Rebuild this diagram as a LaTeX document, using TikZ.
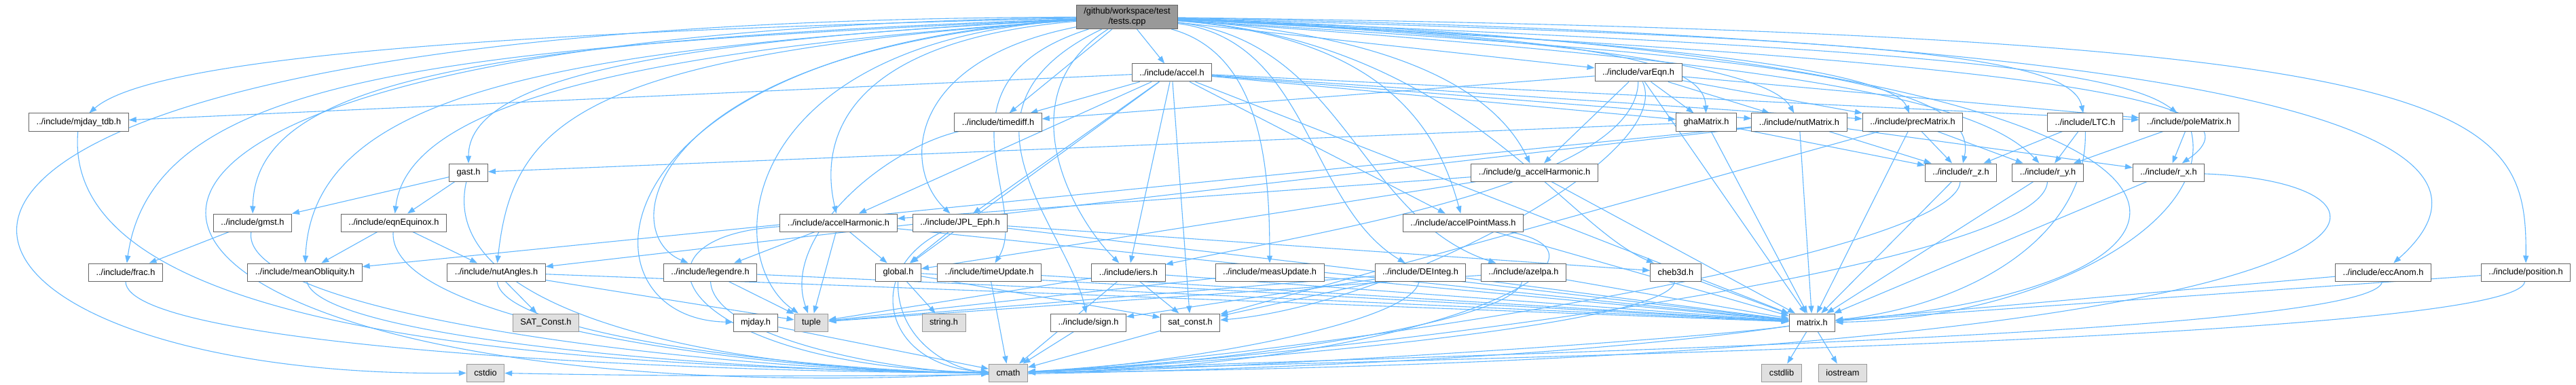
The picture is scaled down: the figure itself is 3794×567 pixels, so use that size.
\documentclass[tikz,border=0pt]{standalone}
\usepackage{fontspec}
\setsansfont{Liberation Sans}
\usetikzlibrary{arrows.meta}

\definecolor{edgeblue}{HTML}{63B8FF}
\definecolor{boxline}{HTML}{666666}
\definecolor{sysline}{HTML}{999999}
\definecolor{sysfill}{HTML}{E0E0E0}
\definecolor{rootfill}{HTML}{999999}

\pgfdeclarelayer{edges}
\pgfsetlayers{edges,main}

\begin{document}
\begin{tikzpicture}[
    x=1pt, y=1pt,
    every node/.style={font=\sffamily\fontsize{12.8}{15}\selectfont},
    hdr/.style={draw=boxline, fill=white, line width=1pt, minimum height=26pt, inner xsep=11pt, inner ysep=2pt},
    sys/.style={hdr, draw=sysline, fill=sysfill},
    root/.style={hdr, fill=rootfill, align=center, inner ysep=4pt},
    inc/.style={draw=edgeblue, line width=1.1pt, -{Triangle[length=11pt,width=8pt]}}
]
\useasboundingbox (0,0) rectangle (3794,-567);

% the file itself
\node[root] (tests) at (1660,-25) {/github/workspace/test\\/tests.cpp};

% first level
\node[hdr] (accel) at (1726,-107) {../include/accel.h};
\node[hdr] (varEqn) at (2413,-107) {../include/varEqn.h};

% second level
\node[hdr] (mjdayTdb) at (116,-180) {../include/mjday\_tdb.h};
\node[hdr] (timediff) at (1470,-180) {../include/timediff.h};
\node[hdr] (ghaMatrix) at (2513,-180) {ghaMatrix.h};
\node[hdr] (nutMatrix) at (2650,-180) {../include/nutMatrix.h};
\node[hdr] (precMatrix) at (2817,-180) {../include/precMatrix.h};
\node[hdr] (LTC) at (3071,-180) {../include/LTC.h};
\node[hdr] (poleMatrix) at (3224,-180) {../include/poleMatrix.h};

% third level
\node[hdr] (gast) at (690,-254) {gast.h};
\node[hdr] (gAccelHarmonic) at (2260,-254) {../include/g\_accelHarmonic.h};
\node[hdr] (rZ) at (2888,-254) {../include/r\_z.h};
\node[hdr] (rY) at (3016,-254) {../include/r\_y.h};
\node[hdr] (rX) at (3194,-254) {../include/r\_x.h};

% fourth level
\node[hdr] (gmst) at (372,-328) {../include/gmst.h};
\node[hdr] (eqnEquinox) at (580,-328) {../include/eqnEquinox.h};
\node[hdr] (accelHarmonic) at (1235,-328) {../include/accelHarmonic.h};
\node[hdr] (JPLEph) at (1414,-328) {../include/JPL\_Eph.h};
\node[hdr] (accelPointMass) at (2155,-328) {../include/accelPointMass.h};

% fifth level
\node[hdr] (frac) at (185,-401) {../include/frac.h};
\node[hdr] (meanObliquity) at (449,-401) {../include/meanObliquity.h};
\node[hdr] (nutAngles) at (731,-401) {../include/nutAngles.h};
\node[hdr] (legendre) at (1046,-401) {../include/legendre.h};
\node[hdr] (global) at (1323,-401) {global.h};
\node[hdr] (timeUpdate) at (1457,-401) {../include/timeUpdate.h};
\node[hdr] (iers) at (1662,-401) {../include/iers.h};
\node[hdr] (measUpdate) at (1870,-401) {../include/measUpdate.h};
\node[hdr] (DEInteg) at (2092,-401) {../include/DEInteg.h};
\node[hdr] (azelpa) at (2244,-401) {../include/azelpa.h};
\node[hdr] (cheb3d) at (2468,-401) {cheb3d.h};
\node[hdr] (eccAnom) at (3510,-401) {../include/eccAnom.h};
\node[hdr] (position) at (3720,-401) {../include/position.h};

% sixth level
\node[sys] (SATConst) at (804,-475) {SAT\_Const.h};
\node[hdr] (mjday) at (1113,-475) {mjday.h};
\node[sys] (tuple) at (1195,-475) {tuple};
\node[sys] (stringH) at (1390,-475) {string.h};
\node[hdr] (sign) at (1603,-475) {../include/sign.h};
\node[hdr] (satConst) at (1753,-475) {sat\_const.h};
\node[hdr] (matrix) at (2669,-475) {matrix.h};

% system headers at the bottom
\node[sys] (cstdio) at (715,-549) {cstdio};
\node[sys] (cmath) at (1485,-549) {cmath};
\node[sys] (cstdlib) at (2624,-549) {cstdlib};
\node[sys] (iostream) at (2714,-549) {iostream};

\begin{pgfonlayer}{edges}
\fill[white] (0,0) rectangle (3794,-567);

% tests.cpp, left side
\draw[inc] (tests) .. controls (-450,-30) and (-200,-560) .. (cstdio);
\draw[inc] (tests) .. controls (-250,-50) and (50,-620) .. (cmath);
\draw[inc] (tests) .. controls (800,-45) and (230,-80) .. (mjdayTdb);
\draw[inc] (tests) .. controls (650,-70) and (225,-110) .. (frac);
\draw[inc] (tests) .. controls (700,-60) and (375,-120) .. (gmst);
\draw[inc] (tests) .. controls (800,-70) and (460,-140) .. (meanObliquity);
\draw[inc] (tests) .. controls (900,-75) and (600,-160) .. (eqnEquinox);
\draw[inc] (tests) .. controls (950,-60) and (690,-120) .. (gast);
\draw[inc] (tests) .. controls (850,-80) and (755,-180) .. (nutAngles);
\draw[inc] (tests) .. controls (860,-70) and (840,-470) .. (mjday);
\draw[inc] (tests) .. controls (960,-70) and (900,-340) .. (legendre);
\draw[inc] (tests) .. controls (1080,-60) and (1060,-380) .. (tuple);
\draw[inc] (tests) .. controls (1250,-60) and (1205,-200) .. (accelHarmonic);
\draw[inc] (tests) .. controls (1330,-90) and (1330,-250) .. (JPLEph);
\draw[inc] (tests) .. controls (1360,-120) and (1520,-300) .. (timeUpdate);
\draw[inc] (tests) .. controls (1380,-160) and (1570,-330) .. (sign);
\draw[inc] (tests) .. controls (1480,-140) and (1580,-320) .. (iers);
\draw[inc] (tests) -- (timediff);
\draw[inc] (tests) .. controls (1860,-80) and (1870,-250) .. (measUpdate);

% tests.cpp, right side
\draw[inc] (tests) -- (accel);
\draw[inc] (tests) -- (varEqn);
\draw[inc] (tests) .. controls (1930,-60) and (1925,-300) .. (DEInteg);
\draw[inc] (tests) .. controls (1980,-60) and (2000,-320) .. (azelpa);
\draw[inc] (tests) .. controls (2050,-55) and (2120,-200) .. (accelPointMass);
\draw[inc] (tests) .. controls (2150,-60) and (2300,-330) .. (cheb3d);
\draw[inc] (tests) .. controls (2050,-50) and (2200,-130) .. (gAccelHarmonic);
\draw[inc] (tests) .. controls (2350,-55) and (2510,-90) .. (ghaMatrix);
\draw[inc] (tests) .. controls (2400,-60) and (2610,-110) .. (nutMatrix);
\draw[inc] (tests) .. controls (2500,-60) and (2790,-110) .. (precMatrix);
\draw[inc] (tests) .. controls (2750,-55) and (3050,-80) .. (LTC);
\draw[inc] (tests) .. controls (2800,-70) and (3120,-100) .. (poleMatrix);
\draw[inc] (tests) .. controls (2550,-80) and (2920,-110) .. (rZ);
\draw[inc] (tests) .. controls (2600,-90) and (2910,-140) .. (rY);
\draw[inc] (tests) .. controls (2950,-90) and (3360,-140) .. (rX);
\draw[inc] (tests) .. controls (3400,-80) and (3380,-420) .. (matrix);
\draw[inc] (tests) .. controls (3600,-60) and (3680,-250) .. (eccAnom);
\draw[inc] (tests) .. controls (3650,-50) and (3722,-150) .. (position);

% accel.h
\draw[inc] (accel) -- (mjdayTdb);
\draw[inc] (accel) -- (timediff);
\draw[inc] (accel) -- (accelHarmonic);
\draw[inc] (accel) -- (JPLEph);
\draw[inc] (accel) -- (global);
\draw[inc] (accel) -- (iers);
\draw[inc] (accel) -- (satConst);
\draw[inc] (accel) -- (accelPointMass);
\draw[inc] (accel) -- (ghaMatrix);
\draw[inc] (accel) -- (nutMatrix);
\draw[inc] (accel) -- (precMatrix);
\draw[inc] (accel) -- (poleMatrix);
\draw[inc] (accel) -- (matrix);

% varEqn.h
\draw[inc] (varEqn) -- (timediff);
\draw[inc] (varEqn) -- (ghaMatrix);
\draw[inc] (varEqn) -- (nutMatrix);
\draw[inc] (varEqn) -- (precMatrix);
\draw[inc] (varEqn) -- (poleMatrix);
\draw[inc] (varEqn) -- (gAccelHarmonic);
\draw[inc] (varEqn) .. controls (2410,-270) and (1950,-340) .. (iers);
\draw[inc] (varEqn) .. controls (2470,-230) and (2050,-450) .. (satConst);
\draw[inc] (varEqn) -- (matrix);

% rotation matrices
\draw[inc] (ghaMatrix) -- (gast);
\draw[inc] (ghaMatrix) -- (rZ);
\draw[inc] (ghaMatrix) -- (matrix);
\draw[inc] (nutMatrix) -- (meanObliquity);
\draw[inc] (nutMatrix) -- (nutAngles);
\draw[inc] (nutMatrix) -- (rZ);
\draw[inc] (nutMatrix) -- (rX);
\draw[inc] (nutMatrix) -- (matrix);
\draw[inc] (precMatrix) -- (rZ);
\draw[inc] (precMatrix) -- (rY);
\draw[inc] (precMatrix) -- (matrix);
\draw[inc] (precMatrix) -- (satConst);
\draw[inc] (LTC) -- (rZ);
\draw[inc] (LTC) -- (rY);
\draw[inc] (LTC) .. controls (3075,-350) and (2900,-450) .. (matrix);
\draw[inc] (poleMatrix) -- (rX);
\draw[inc] (poleMatrix) -- (rY);
\draw[inc] (poleMatrix) .. controls (3260,-330) and (3000,-470) .. (matrix);
\draw[inc] (rZ) -- (matrix);
\draw[inc] (rY) -- (matrix);
\draw[inc] (rX) -- (matrix);
\draw[inc] (rZ) .. controls (2880,-380) and (1900,-525) .. (cmath);
\draw[inc] (rY) .. controls (3010,-400) and (1900,-530) .. (cmath);
\draw[inc] (rX) .. controls (3620,-270) and (3600,-530) .. (cmath);

% sidereal time and nutation
\draw[inc] (gast) -- (gmst);
\draw[inc] (gast) -- (eqnEquinox);
\draw[inc] (gast) .. controls (640,-470) and (1100,-549) .. (cmath);
\draw[inc] (gmst) -- (frac);
\draw[inc] (gmst) .. controls (350,-470) and (1100,-549) .. (cmath);
\draw[inc] (eqnEquinox) -- (meanObliquity);
\draw[inc] (eqnEquinox) -- (nutAngles);
\draw[inc] (eqnEquinox) .. controls (570,-480) and (1150,-549) .. (cmath);
\draw[inc] (frac) .. controls (185,-510) and (1000,-549) .. (cmath);
\draw[inc] (meanObliquity) .. controls (470,-500) and (1100,-549) .. (cmath);
\draw[inc] (mjdayTdb) .. controls (90,-470) and (700,-540) .. (cmath);
\draw[inc] (nutAngles) -- (SATConst);
\draw[inc] (nutAngles) -- (tuple);
\draw[inc] (nutAngles) -- (matrix);
\draw[inc] (nutAngles) .. controls (740,-500) and (1250,-549) .. (cmath);

% gravity field
\draw[inc] (gAccelHarmonic) -- (accelHarmonic);
\draw[inc] (gAccelHarmonic) -- (global);
\draw[inc] (gAccelHarmonic) -- (matrix);
\draw[inc] (accelHarmonic) -- (legendre);
\draw[inc] (accelHarmonic) -- (global);
\draw[inc] (accelHarmonic) -- (tuple);
\draw[inc] (accelHarmonic) -- (matrix);
\draw[inc] (accelHarmonic) .. controls (900,-350) and (1000,-540) .. (cmath);
\draw[inc] (legendre) -- (tuple);
\draw[inc] (legendre) -- (matrix);
\draw[inc] (legendre) .. controls (1050,-500) and (1330,-549) .. (cmath);
\draw[inc] (JPLEph) -- (global);
\draw[inc] (JPLEph) -- (cheb3d);
\draw[inc] (JPLEph) -- (matrix);
\draw[inc] (JPLEph) .. controls (1270,-400) and (1300,-540) .. (cmath);
\draw[inc] (accelPointMass) -- (matrix);
\draw[inc] (accelPointMass) .. controls (2420,-380) and (2100,-540) .. (cmath);
\draw[inc] (global) -- (stringH);
\draw[inc] (global) -- (satConst);
\draw[inc] (global) -- (matrix);
\draw[inc] (global) .. controls (1320,-500) and (1400,-545) .. (cmath);

% filters, integrator and the rest
\draw[inc] (timediff) .. controls (1300,-220) and (1150,-350) .. (tuple);
\draw[inc] (timeUpdate) -- (matrix);
\draw[inc] (timeUpdate) -- (cmath);
\draw[inc] (iers) -- (satConst);
\draw[inc] (iers) -- (matrix);
\draw[inc] (iers) -- (tuple);
\draw[inc] (iers) -- (cmath);
\draw[inc] (measUpdate) -- (matrix);
\draw[inc] (measUpdate) -- (tuple);
\draw[inc] (DEInteg) -- (sign);
\draw[inc] (DEInteg) -- (satConst);
\draw[inc] (DEInteg) -- (matrix);
\draw[inc] (DEInteg) -- (tuple);
\draw[inc] (DEInteg) .. controls (2080,-480) and (1700,-540) .. (cmath);
\draw[inc] (azelpa) -- (matrix);
\draw[inc] (azelpa) -- (tuple);
\draw[inc] (azelpa) .. controls (2230,-480) and (1750,-540) .. (cmath);
\draw[inc] (cheb3d) -- (matrix);
\draw[inc] (cheb3d) .. controls (2460,-480) and (1800,-535) .. (cmath);
\draw[inc] (eccAnom) -- (matrix);
\draw[inc] (eccAnom) .. controls (3500,-500) and (1950,-525) .. (cmath);
\draw[inc] (position) -- (matrix);
\draw[inc] (position) .. controls (3710,-505) and (1950,-530) .. (cmath);
\draw[inc] (mjday) -- (cmath);
\draw[inc] (sign) -- (cmath);
\draw[inc] (satConst) -- (cmath);

% matrix.h
\draw[inc] (matrix) -- (cstdlib);
\draw[inc] (matrix) -- (iostream);
\draw[inc] (matrix) .. controls (2500,-500) and (1800,-545) .. (cmath);
\draw[inc] (matrix) .. controls (2300,-530) and (1600,-566) .. (cstdio);
\end{pgfonlayer}

\end{tikzpicture}
\end{document}
